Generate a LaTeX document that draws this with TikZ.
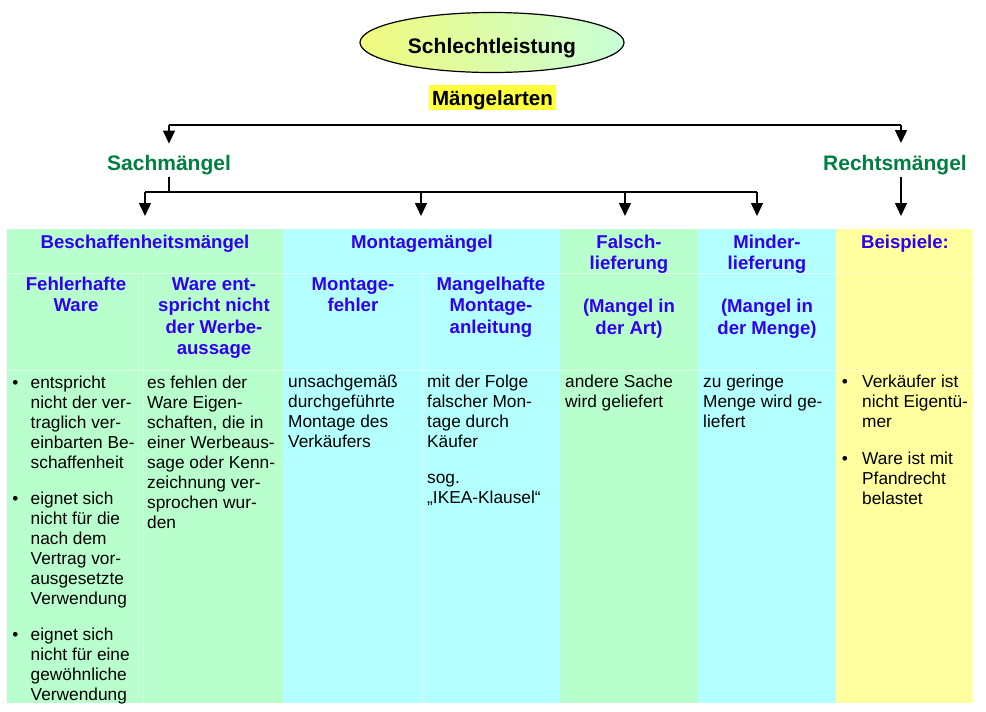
\documentclass[tikz,border=0pt]{standalone}
\usepackage{fontspec}
\setmainfont{Liberation Sans}
\usetikzlibrary{arrows.meta,shapes.geometric}

\definecolor{mint}{RGB}{185,255,205}
\definecolor{aqua}{RGB}{180,255,255}
\definecolor{pale}{RGB}{255,255,160}
\definecolor{hdblue}{RGB}{48,0,240}
\definecolor{brgreen}{RGB}{0,128,64}
\definecolor{marker}{RGB}{255,255,60}

\tikzset{
    link/.style={line width=1.5pt},
    arr/.style={link,-{Triangle[width=12pt,length=13pt]}},
    hdtext/.style={font=\fontsize{18.6}{21.5}\selectfont\bfseries,text=hdblue,align=center,inner sep=0pt,anchor=base},
    bodytext/.style={font=\fontsize{17.3}{20}\selectfont,align=left,inner sep=0pt,anchor=base west},
    bultext/.style={font=\fontsize{17.3}{20}\selectfont,inner sep=0pt,anchor=base},
    branchtext/.style={font=\fontsize{21}{24}\selectfont\bfseries,text=brgreen,inner sep=2pt,anchor=base},
    colbox/.style={inner sep=0pt,minimum height=474pt,anchor=north west},
    cellline/.style={white,line width=0.6pt,opacity=0.45}
}

\begin{document}
\begin{tikzpicture}[x=1pt,y=-1pt]
    \useasboundingbox(0,0)rectangle(986,712);

    \node[colbox,fill=mint,minimum width=276pt](beschCol)at(7,229){};
    \node[colbox,fill=aqua,minimum width=277pt](montCol)at(283,229){};
    \node[colbox,fill=mint,minimum width=138pt](falschCol)at(560,229){};
    \node[colbox,fill=aqua,minimum width=138pt](minderCol)at(698,229){};
    \node[colbox,fill=pale,minimum width=137pt](beispCol)at(836,229){};
    \draw[cellline](7,273)--(973,273);
    \draw[cellline](7,370)--(973,370);
    \draw[cellline](143,273)--(143,703);
    \draw[cellline](422,273)--(422,703);

    \node[ellipse,draw,line width=1.2pt,left color={rgb,255:red,240;green,250;blue,125},right color={rgb,255:red,200;green,255;blue,215},
        minimum width=264pt,minimum height=60pt,inner sep=0pt,text height=21pt,text depth=0pt,
        font=\fontsize{21}{24}\selectfont\bfseries](schlecht)at(492,42.5){Schlechtleistung};
    \node[fill=marker,inner xsep=3pt,inner ysep=2pt,text height=18pt,text depth=3pt,anchor=base,
        font=\fontsize{20.5}{24}\selectfont\bfseries](arten)at(492.5,105){Mängelarten};

    \node[branchtext](sach)at(169,170){Sachmängel};
    \node[branchtext](rechts)at(895,170){Rechtsmängel};

    \coordinate(barL)at(169,125);
    \coordinate(barR)at(901,125);
    \draw[link](barL)--(barR);
    \draw[arr](barL)--([yshift=9pt]sach.north);
    \draw[arr](barR)--(barR|-0,143);

    \path(beschCol.north)++(0,-13)coordinate(tipTop);
    \coordinate(f1)at(145,192);
    \coordinate(f2)at(421,192);
    \coordinate(f3)at(625,192);
    \coordinate(f4)at(757,192);
    \draw[link](sach.south)--(sach.south|-f1);
    \draw[link](f1)--(f4);
    \foreach \f in {f1,f2,f3,f4}
        \draw[arr](\f)--(\f|-tipTop);
    \draw[arr](rechts.south-|barR)--(barR|-tipTop);

    % base of a multi-line node = baseline of its last line
    \node[hdtext](beschHd)at(145,248){Beschaffenheitsmängel};
    \node[hdtext](montHd)at(422,248){Montagemängel};
    \node[hdtext](falschHd)at(629,334){Falsch-\\lieferung\\[21.5pt](Mangel in\\der Art)};
    \node[hdtext](minderHd)at(767,334){Minder-\\lieferung\\[21.5pt](Mangel in\\der Menge)};
    \node[hdtext](beispHd)at(905,248){Beispiele:};
    \node[hdtext](fehlerHd)at(76,311.5){Fehlerhafte\\Ware};
    \node[hdtext](werbeHd)at(214,354.5){Ware ent-\\spricht nicht\\der Werbe-\\aussage};
    \node[hdtext](mfehlerHd)at(353,311.5){Montage-\\fehler};
    \node[hdtext](anleitHd)at(491,333){Mangelhafte\\Montage-\\anleitung};

    \node[bultext](b1)at(15.5,388){•};
    \node[bodytext](t1)at(30.5,468){entspricht\\nicht der ver-\\traglich ver-\\einbarten Be-\\schaffenheit};
    \node[bultext](b2)at(15.5,504){•};
    \node[bodytext](t2)at(30.5,604){eignet sich\\nicht für die\\nach dem\\Vertrag vor-\\ausgesetzte\\Verwendung};
    \node[bultext](b3)at(15.5,640){•};
    \node[bodytext](t3)at(30.5,700){eignet sich\\nicht für eine\\gewöhnliche\\Verwendung};
    \node[bodytext](werbeTx)at(147,528){es fehlen der\\Ware Eigen-\\schaften, die in\\einer Werbeaus-\\sage oder Kenn-\\zeichnung ver-\\sprochen wur-\\den};
    \node[bodytext](montTx)at(288,447.5){unsachgemäß\\durchgeführte\\Montage des\\Verkäufers};
    \node[bodytext](anleitTx)at(427,503.5){mit der Folge\\falscher Mon-\\tage durch\\Käufer\\[16pt]sog.\\„IKEA-Klausel“};
    \node[bodytext](falschTx)at(565,407.5){andere Sache\\wird geliefert};
    \node[bodytext](minderTx)at(703,427.5){zu geringe\\Menge wird ge-\\liefert};
    \node[bultext](b4)at(845,387.5){•};
    \node[bodytext](t4)at(862,427.5){Verkäufer ist\\nicht Eigentü-\\mer};
    \node[bultext](b5)at(845,464){•};
    \node[bodytext](t5)at(862,504){Ware ist mit\\Pfandrecht\\belastet};
\end{tikzpicture}
\end{document}
